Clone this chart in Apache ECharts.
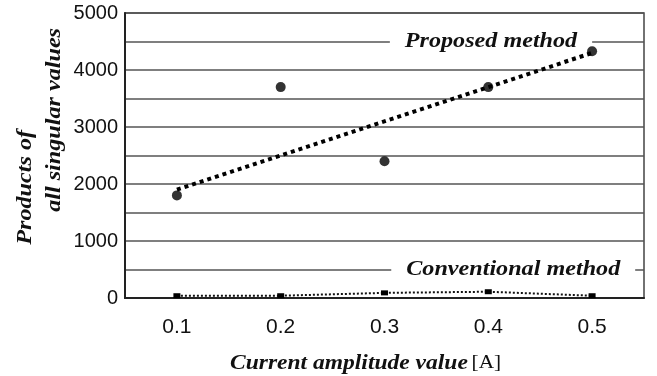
<!DOCTYPE html>
<html>
<head>
<meta charset="utf-8">
<script src="https://cdn.jsdelivr.net/npm/echarts@6/dist/echarts.min.js"></script>
<style>
  html, body { margin: 0; padding: 0; background: #fff; }
  #chart { width: 657px; height: 376px; }
</style>
</head>
<body>
<div id="chart"></div>
<script>
// Current amplitude values [A]
const amplitudes = [0.1, 0.2, 0.3, 0.4, 0.5];
// Products of all singular values
const proposedValues = [1800, 3700, 2400, 3700, 4330];
const conventionalValues = [40, 40, 90, 110, 40];
// Dotted trend line of the proposed method (end points)
const trendX = [0.1, 0.5];
const trendValues = [1900, 4300];
// Axis ticks
const xTickValues = [0.1, 0.2, 0.3, 0.4, 0.5];
const yTickValues = [0, 1000, 2000, 3000, 4000, 5000];
// In-plot series captions, placed on the 4500 and 500 grid lines
const captionTexts = ['Proposed method', 'Conventional method'];
const captionX = [0.4026, 0.424];
const captionY = [4500, 500];

const serif = '"Liberation Serif", "DejaVu Serif", serif';
const sans = '"Liberation Sans", Arial, sans-serif';

const chart = echarts.init(document.getElementById('chart'), null, { renderer: 'canvas' });

chart.setOption({
  animation: false,
  backgroundColor: '#ffffff',
  grid: {
    left: 125, right: 13, top: 13, bottom: 78,
    show: true, borderColor: '#444', borderWidth: 1.5
  },
  xAxis: {
    type: 'value',
    min: 0.05, max: 0.55,
    splitLine: { show: false },
    axisTick: { show: false },
    axisLine: { show: true, lineStyle: { color: '#222', width: 2 } },
    axisLabel: {
      customValues: xTickValues,
      formatter: v => v.toFixed(1),
      color: '#111', fontFamily: sans, fontSize: 21, margin: 19
    }
  },
  yAxis: {
    type: 'value',
    min: 0, max: 5000, interval: 500,
    axisTick: { show: false },
    axisLine: { show: true, lineStyle: { color: '#222', width: 2 } },
    splitLine: { show: true, lineStyle: { color: '#555', width: 1.5 } },
    axisLabel: {
      formatter: v => (yTickValues.indexOf(v) >= 0 ? String(v) : ''),
      color: '#111', fontFamily: sans, fontSize: 20, margin: 7
    }
  },
  series: [
    {
      // captions sitting on a grid line, with a white backing that breaks the line
      name: 'captions',
      type: 'custom',
      silent: true,
      data: captionX.map((x, i) => [x, captionY[i]]),
      renderItem: (params, api) => {
        const p = api.coord([api.value(0), api.value(1)]);
        return {
          type: 'text',
          x: p[0], y: p[1],
          scaleX: 1.15,
          style: {
            text: captionTexts[params.dataIndex],
            font: 'italic bold 21px ' + serif,
            fill: '#111',
            align: 'center', verticalAlign: 'middle',
            backgroundColor: '#ffffff',
            padding: [2, 13]
          }
        };
      },
      z: 2
    },
    {
      name: 'Proposed trend',
      type: 'line',
      data: trendX.map((x, i) => [x, trendValues[i]]),
      symbol: 'none',
      lineStyle: { color: '#000', width: 4, type: [4, 4], cap: 'butt' },
      z: 3
    },
    {
      name: 'Proposed method',
      type: 'scatter',
      data: amplitudes.map((x, i) => [x, proposedValues[i]]),
      symbol: 'circle', symbolSize: 10,
      itemStyle: { color: '#000' },
      z: 4
    },
    {
      name: 'Conventional method',
      type: 'line',
      data: amplitudes.map((x, i) => [x, conventionalValues[i]]),
      symbol: 'rect', symbolSize: [7, 5], showSymbol: true,
      itemStyle: { color: '#000' },
      lineStyle: { color: '#111', width: 2, type: [2, 2], cap: 'butt' },
      z: 4
    }
  ],
  graphic: [
    {
      type: 'text', left: 15, top: 130, rotation: Math.PI / 2,
      scaleX: 1.15,
      style: { text: 'Products of', font: 'italic bold 21px ' + serif, fill: '#111' }
    },
    {
      type: 'text', left: 44, top: 28, rotation: Math.PI / 2,
      scaleX: 1.15,
      style: { text: 'all singular values', font: 'italic bold 21px ' + serif, fill: '#111' }
    },
    {
      type: 'text', left: 230, top: 353,
      scaleX: 1.12,
      style: {
        text: '{b|Current amplitude value} {r|[A]}',
        rich: {
          b: { font: 'italic bold 21px ' + serif, fill: '#111' },
          r: { font: '19px ' + serif, fill: '#111' }
        }
      }
    }
  ]
});
</script>
</body>
</html>
